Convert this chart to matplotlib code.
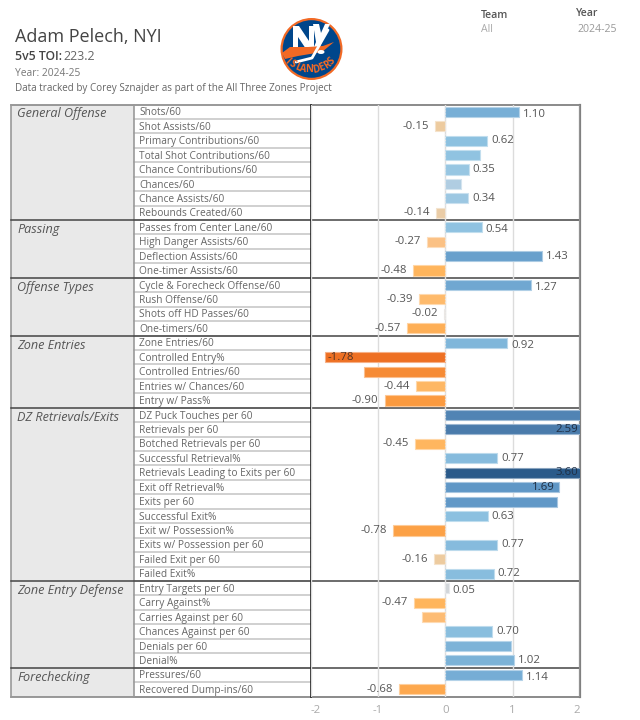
import numpy as np
import matplotlib
matplotlib.use('Agg')
import matplotlib.pyplot as plt
from matplotlib.colors import LinearSegmentedColormap
from matplotlib.patches import Circle, Ellipse, Polygon

plt.rcParams['font.family'] = ['Open Sans', 'DejaVu Sans']
plt.rcParams['axes.unicode_minus'] = False

groups = ['General Offense', 'Passing', 'Offense Types', 'Zone Entries',
          'DZ Retrievals/Exits', 'Zone Entry Defense', 'Forechecking']
group_sizes = [8, 4, 4, 5, 12, 6, 2]

metrics = ['Shots/60', 'Shot Assists/60', 'Primary Contributions/60', 'Total Shot Contributions/60',
           'Chance Contributions/60', 'Chances/60', 'Chance Assists/60', 'Rebounds Created/60',
           'Passes from Center Lane/60', 'High Danger Assists/60', 'Deflection Assists/60', 'One-timer Assists/60',
           'Cycle & Forecheck Offense/60', 'Rush Offense/60', 'Shots off HD Passes/60', 'One-timers/60',
           'Zone Entries/60', 'Controlled Entry%', 'Controlled Entries/60', 'Entries w/ Chances/60', 'Entry w/ Pass%',
           'DZ Puck Touches per 60', 'Retrievals per 60', 'Botched Retrievals per 60', 'Successful Retrieval%',
           'Retrievals Leading to Exits per 60', 'Exit off Retrieval%', 'Exits per 60', 'Successful Exit%',
           'Exit w/ Possession%', 'Exits w/ Possession per 60', 'Failed Exit per 60', 'Failed Exit%',
           'Entry Targets per 60', 'Carry Against%', 'Carries Against per 60', 'Chances Against per 60',
           'Denials per 60', 'Denial%',
           'Pressures/60', 'Recovered Dump-ins/60']

values = [1.10, -0.15, 0.62, 0.52, 0.35, 0.24, 0.34, -0.14,
          0.54, -0.27, 1.43, -0.48,
          1.27, -0.39, -0.02, -0.57,
          0.92, -1.78, -1.20, -0.44, -0.90,
          2.30, 2.59, -0.45, 0.77, 3.60, 1.69, 1.66, 0.63, -0.78, 0.77, -0.16, 0.72,
          0.05, -0.47, -0.35, 0.70, 0.98, 1.02,
          1.14, -0.68]

# tableau shows no label on these rows
unlabeled = ['Total Shot Contributions/60', 'Chances/60', 'Controlled Entries/60', 'DZ Puck Touches per 60',
             'Exits per 60', 'Carries Against per 60', 'Denials per 60']

xticks = [-2, -1, 0, 1, 2]

# diverging scale, -2 to 3.6
scale_points = [(-2.0, '#e96a1e'), (-1.78, '#ee7023'), (-0.9, '#fb9a3f'), (-0.48, '#ffb55c'), (-0.27, '#fcc183'),
                (-0.15, '#eccba0'), (0.0, '#d8d8d8'), (0.24, '#b0cde2'), (0.35, '#97c6e2'), (0.62, '#8cc1e0'),
                (1.1, '#78afd6'), (1.43, '#68a0cc'), (1.7, '#6097c6'), (2.59, '#4a7bab'), (3.6, '#2a5a8a')]
lo, hi = -2.0, 3.6
cmap = LinearSegmentedColormap.from_list('orange_blue', [((v - lo) / (hi - lo), c) for v, c in scale_points])

W, H = 640, 720
fig = plt.figure(figsize=(W / 100, H / 100), dpi=100)

# full figure axes in pixels for table and header
bg = fig.add_axes([0, 0, 1, 1])
bg.set_xlim(0, W)
bg.set_ylim(H, 0)
bg.axis('off')

top, bottom = 104.5, 696.5
left, split, plot_l, plot_r = 11, 133.5, 310.5, 580
row_h = (bottom - top) / len(metrics)
text_c = '#555555'

ax = fig.add_axes([plot_l / W, 1 - bottom / H, (plot_r - plot_l) / W, (bottom - top) / H])
ax.set_xlim(-2, 2)
ax.set_ylim(len(metrics), 0)
ax.patch.set_alpha(0)
ax.set_yticks([])
ax.set_xticks(xticks)
ax.tick_params(axis='x', length=0, labelsize=8.2, labelcolor='#aaaaaa', pad=6)
tick_labels = ax.get_xticklabels()
tick_labels[0].set_ha('left')
tick_labels[-1].set_ha('right')
ax.set_axisbelow(True)
ax.grid(axis='x', color='#dcdcdc', lw=1)
for s in ax.spines.values():
    s.set_visible(False)

y = np.arange(len(metrics)) + 0.5
colors = cmap((np.array(values) - lo) / (hi - lo))
edges = colors * 0.55 + 0.45
ax.barh(y, values, height=0.7, color=colors, edgecolor=edges, lw=0.8, zorder=3)
ax.axvline(0, color='#e4e4e4', lw=0.8, ls=':', zorder=4)

group_starts = list(np.cumsum([0] + group_sizes[:-1]))
for i, (yi, name, v) in enumerate(zip(y, metrics, values)):
    if name in unlabeled:
        continue
    label = f'{v:.2f}'
    if v > 2:
        # bar runs past the axis, label sits inside
        ax.text(1.97, yi, label, ha='right', va='center', fontsize=8.2, color='#1f2f45', zorder=5)
    elif v < -1.5:
        ax.text(v + 0.03, yi, label, ha='left', va='center', fontsize=8.2, color='#553322', zorder=5)
    elif v > 1.5:
        ax.text(v - 0.07, yi, label, ha='right', va='center', fontsize=8.2, color='#1f2f45', zorder=5)
    elif v >= 0:
        # first row of a block gets pushed down a bit in the original
        shift = 0.17 if i in group_starts else 0
        ax.text(v + 0.06, yi + shift, label, ha='left', va='center', fontsize=8.2, color=text_c, zorder=5)
    else:
        ax.text(v - 0.09, yi, label, ha='right', va='center', fontsize=8.2, color=text_c, zorder=5)

# table on the left
bg.fill_between([left, split], top, bottom, color='#e9e9e9', lw=0)
row = 0
for name in metrics:
    yc = top + (row + 0.5) * row_h
    bg.text(139, yc + 3.6, name, fontsize=7.3, color='#666666', va='baseline', ha='left')
    bg.plot([split, plot_l], [top + (row + 1) * row_h] * 2, color='#c8c8c8', lw=1.2)
    row += 1

row = 0
for g, n in zip(groups, group_sizes):
    bg.text(17, top + row * row_h + 13, g, fontsize=9.1, style='italic', color='#555555', va='baseline', ha='left')
    row += n
    if row < len(metrics):
        yl = top + row * row_h
        bg.plot([left, plot_r], [yl, yl], color='#444444', lw=1.1, zorder=6)

bg.plot([left, plot_l], [top, top], color='#888888', lw=1.2)
bg.plot([plot_l, plot_r], [top, top], color='#777777', lw=1.2, zorder=6)
bg.plot([left, plot_l], [bottom, bottom], color='#888888', lw=1.2)
bg.plot([plot_l, plot_r], [bottom, bottom], color='#777777', lw=1.2, zorder=6)
bg.plot([left, left], [top, bottom], color='#999999', lw=1.2)
bg.plot([split, split], [top, bottom], color='#999999', lw=1.2)
bg.plot([plot_l, plot_l], [top, bottom], color='#222222', lw=1.2, zorder=6)
bg.plot([plot_r, plot_r], [top, bottom], color='#808080', lw=1.6, zorder=6)

# header
bg.text(15, 37, 'Adam Pelech, NYI', fontsize=13, color='#444444', va='center')
bg.text(15, 57, '5v5 TOI:', fontsize=8.8, color='#444444', va='center', weight='semibold')
bg.text(63, 57, '223.2', fontsize=9, color='#666666', va='center')
bg.text(15, 74, 'Year: 2024-25', fontsize=7.4, color='#777777', va='center')
bg.text(15, 89, 'Data tracked by Corey Sznajder as part of the All Three Zones Project', fontsize=7.15,
        color='#666666', va='center')
bg.text(481, 15, 'Team', fontsize=7.6, color='#555555', va='center', weight='semibold')
bg.text(481, 30, 'All', fontsize=7.6, color='#aaaaaa', va='center')
bg.text(576, 14, 'Year', fontsize=7.6, color='#555555', va='center', weight='semibold')
bg.text(577, 29, '2024-25', fontsize=7.6, color='#999999', va='center')

# logo, drawn roughly in pixel coords
bg.add_patch(Circle((311.5, 49), 31, color='#f26924', lw=0))
bg.add_patch(Circle((311.5, 49), 28.8, color='#00468b', lw=0))
bg.add_patch(Polygon([(293, 26), (299, 26), (309, 41), (309, 26), (314, 26), (314, 52), (308, 52), (298, 37),
                      (298, 52), (293, 52)], closed=True, color='white', lw=0))
bg.add_patch(Polygon([(313, 24), (319, 24), (321, 33), (325, 24), (330, 24), (321, 44), (318, 52), (312, 52),
                      (316, 42)], closed=True, color='white', lw=0))
bg.add_patch(Polygon([(282, 53), (290, 47), (308, 47), (323, 46), (334, 42), (322, 52), (298, 56), (285, 59)],
                     closed=True, color='#f26924', lw=0))
bg.plot([328, 312, 296], [30, 58, 62], color='white', lw=2, solid_capstyle='round')
bg.add_patch(Ellipse((321, 52), 7, 4, color='white', lw=0))
for letter, ang in zip('ISLANDERS', np.linspace(-44, 44, 9)):
    a = np.radians(ang)
    bg.text(309.5 + 32.6 * np.sin(a), 37.4 + 32.6 * np.cos(a), letter, fontsize=7, weight='bold', color='#f26924',
            ha='center', va='center', rotation=ang)

fig.savefig('out.png', dpi=100)
